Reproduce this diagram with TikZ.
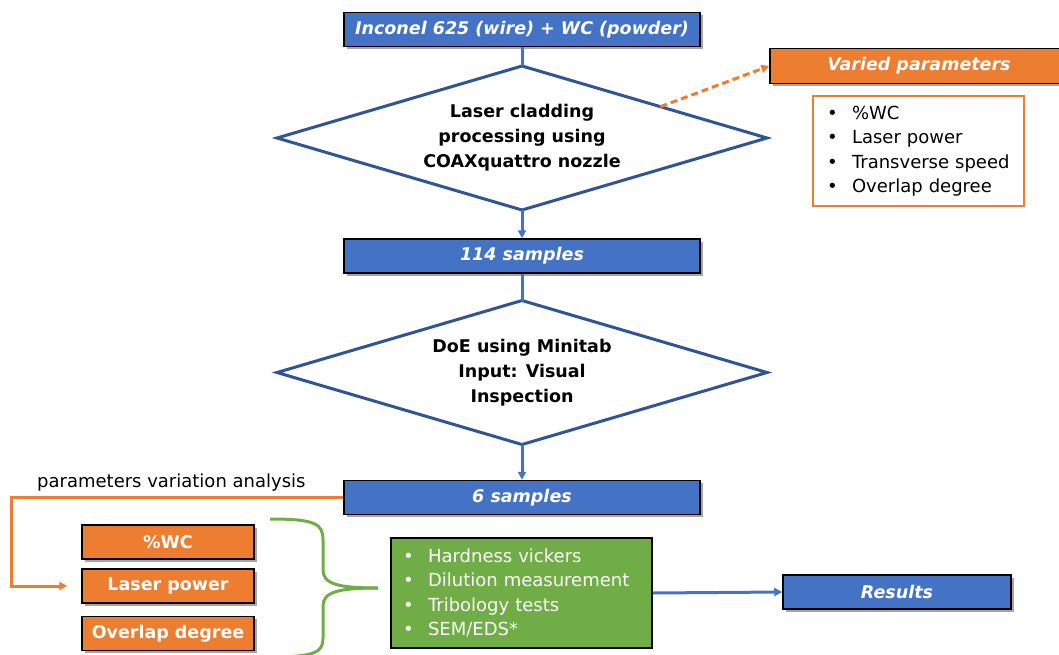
\documentclass[tikz,border=0pt]{standalone}
\usepackage{fontspec}
\setmainfont{DejaVu Sans}
\usetikzlibrary{shapes.geometric,shadows,arrows.meta,calc}

\definecolor{boxblue}{HTML}{4472C4}
\definecolor{rimblue}{HTML}{2F5597}
\definecolor{boxorange}{HTML}{ED7D31}
\definecolor{boxgreen}{HTML}{70AD47}

\newcommand\itm[1]{\makebox[25pt][l]{\textbullet}#1}
\newcommand\fsb{\fontsize{17.5}{25}\selectfont\bfseries}
\newcommand\fsr{\fontsize{18}{24.5}\selectfont}

\tikzset{
  boxshadow/.style={drop shadow={shadow xshift=2.5pt,shadow yshift=-2.5pt,fill=black,opacity=.35}},
  stepbox/.style={draw=black,line width=1.5pt,fill=boxblue,text=white,
    font=\fsb\itshape,minimum height=34pt,inner sep=0pt,boxshadow},
  parbox/.style={draw=black,line width=1.5pt,fill=boxorange,text=white,
    font=\fsb,minimum width=172pt,minimum height=34pt,inner sep=0pt,boxshadow},
  decide/.style={diamond,draw=rimblue,line width=3pt,fill=white,aspect=3.4,
    minimum width=490pt,minimum height=144pt,inner sep=0pt,outer sep=0pt,
    align=center,font=\fsb},
  flowline/.style={draw=boxblue,line width=3pt},
  flow/.style={flowline,-{Triangle[length=8pt,width=8pt]}},
}

\begin{document}
\begin{tikzpicture}[x=1pt,y=-1pt]
  \useasboundingbox (0,0) rectangle (1059,655);
  \clip (0,0) rectangle (1059,655);

  % main column
  \node[stepbox,minimum width=356pt] (feed) at (522,29.5) {Inconel 625 (wire) + WC (powder)};
  \node[decide] (clad) at (522,138) {Laser cladding\\processing using\\COAXquattro nozzle};
  \node[stepbox,minimum width=356pt] (s114) at (522,256) {114 samples};
  \node[decide] (doe) at (522,372.5) {DoE using Minitab\\Input: Visual\\Inspection};
  \node[stepbox,minimum width=356pt] (s6) at (522,497.5) {6 samples};

  \draw[flowline] (feed) -- (clad.north);
  \draw[flow] (clad.south) -- (s114.north);
  \draw[flowline] (s114) -- (doe.north);
  \draw[flow] (doe.south) -- (s6.north);

  % varied parameters
  \node[stepbox,fill=boxorange,minimum width=298pt,minimum height=35pt] (varied) at (919,66) {Varied parameters};
  \node[draw=boxorange,line width=1.5pt,fill=white,text width=183pt,inner xsep=14pt,
    minimum height=110pt,align=left,font=\fsr] (vlist) at (918.5,151)
    {\itm{\%WC}\\\itm{Laser power}\\\itm{Transverse speed}\\\itm{Overlap degree}};
  \coordinate (tap) at ($(clad.north)!0.565!(clad.east)$);
  \draw[boxorange,line width=3pt,dash pattern=on 7pt off 4pt,
    -{Triangle[length=8pt,width=8pt]}] (tap) -- (varied.west);

  % parameter study
  \node[parbox] (pwc) at (168,542) {\%WC};
  \node[parbox] (ppow) at (168,586) {Laser power};
  \node[parbox] (povl) at (168,633.5) {Overlap degree};
  \node[anchor=base west,font=\fsr,inner sep=0pt] (pva) at (37,487) {parameters variation analysis};
  \coordinate (hit) at ($(ppow.west)+(-14,0)$);
  \draw[boxorange,line width=3pt,-{Triangle[length=8pt,width=8pt]}] (s6.west) -- ++(-332,0) |- (hit);

  % brace
  \coordinate (tip) at (378,588);
  \draw[boxgreen,line width=3pt] (270,519) .. controls (316,519) and (323,524) .. (323,540)
    -- (323,570) .. controls (323,584) and (338,588) .. (tip);
  \draw[boxgreen,line width=3pt] (tip) .. controls (338,588) and (323,592) .. (323,606)
    -- (323,638) .. controls (323,652) and (316,657) .. (270,657);

  % tests and results
  \node[draw=black,line width=1.5pt,fill=boxgreen,text=white,text width=237pt,inner xsep=12pt,
    minimum height=110pt,align=left,font=\fsr] (tests) at (521.5,593)
    {\itm{Hardness vickers}\\\itm{Dilution measurement}\\\itm{Tribology tests}\\\itm{SEM/EDS*}};
  \node[stepbox,minimum width=228pt] (res) at (897,592) {Results};
  \draw[flow] (tests.east) -- (res.west);
\end{tikzpicture}
\end{document}
